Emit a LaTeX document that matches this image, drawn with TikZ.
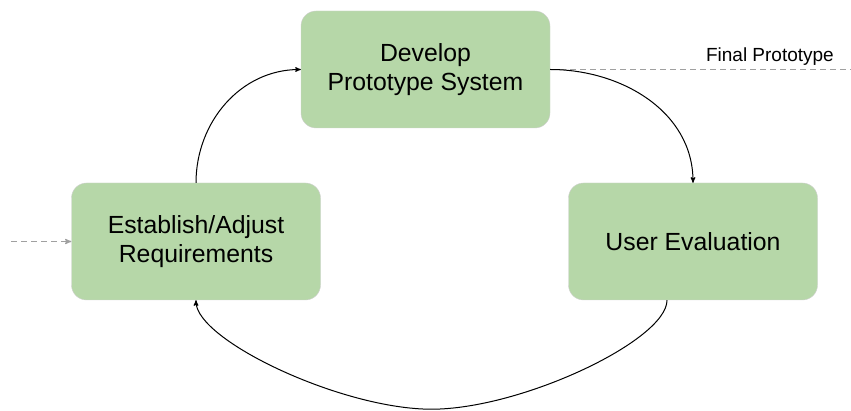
\documentclass[tikz,border=0pt]{standalone}
\usepackage{fontspec}
\setmainfont{Liberation Sans}
\usepackage{tikz}
\usetikzlibrary{shapes,arrows}
\usetikzlibrary{calc}
\usetikzlibrary{positioning}
\definecolor{stagegreen}{HTML}{B6D7A8}
\definecolor{stageedge}{HTML}{D0D0D0}
\definecolor{flowgray}{HTML}{A0A0A0}
\tikzstyle{stage} = [draw=stageedge, fill=stagegreen, rounded corners=15pt,
  minimum width=249pt, minimum height=117pt, align=center,
  font=\fontsize{24.8}{29}\selectfont]
\tikzstyle{input} = [coordinate]
\tikzstyle{output} = [coordinate]
\tikzstyle{flow} = [->, >=stealth', line width=1pt]
\tikzstyle{extern} = [flowgray, dash pattern=on 6pt off 4pt, line width=1.2pt]

\begin{document}
\begin{tikzpicture}[auto, x=1pt, y=1pt]
    \useasboundingbox (0,0) rectangle (851,-411);
    \node [stage, name=develop] at (425.5,-69.5) {Develop\\Prototype System};
    \node [stage, name=establish] at (196,-241.5) {Establish/Adjust\\Requirements};
    \node [stage, name=evaluation] at (693,-241.5) {User Evaluation};
    \node [input, left=60pt of establish] (input) {};
    \node [output, right=301pt of develop] (output) {};
    \coordinate (leave) at ([xshift=-26pt]evaluation.south);
    \coordinate (bottom) at ($(leave)!0.5!(establish.south) + (0,-109)$);

    \draw [extern, ->, >=stealth'] (input) -- (establish);
    \draw [extern] (develop) -- node[pos=0.73, black, font=\fontsize{19}{22}\selectfont] {Final Prototype} (output);
    \draw [flow] (establish.north) to[out=90, in=180] (develop.west);
    \draw [flow] (develop.east) to[out=0, in=90] (evaluation.north);
    \draw [flow] (leave) to[out=-90, in=0, out distance=40pt, in distance=90pt] (bottom)
      to[out=180, in=-90, out distance=90pt, in distance=40pt] (establish.south);
  \end{tikzpicture}
\end{document}
